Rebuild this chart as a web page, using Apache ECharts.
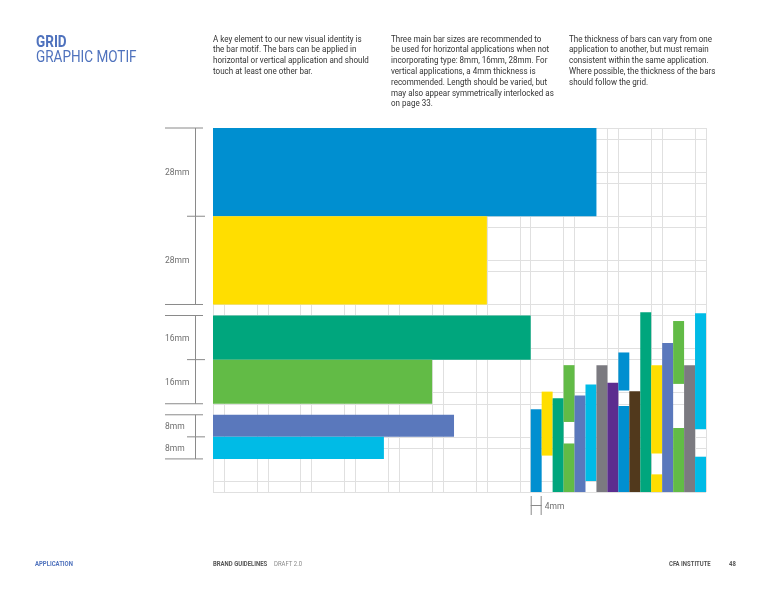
<!DOCTYPE html>
<html>
<head>
<meta charset="utf-8">
<script src="https://cdn.jsdelivr.net/npm/echarts@6/dist/echarts.min.js"></script>
<style>html,body{margin:0;padding:0;background:#fff}#c{width:768px;height:593px}</style>
</head>
<body>
<div id="c"></div>
<script>
// ---- Horizontal bars (grid units: x across, y down from top) ----
const hBarStart  = [0, 0, 0, 0, 0, 0];
const hBarEnd    = [35, 25, 29, 20, 22, 15.6];
const hBarTop    = [0, 8, 17, 21, 26, 28];
const hBarBottom = [8, 16, 21, 25, 28, 30];
const hBarColor  = ['#008fd0', '#ffde00', '#00a67d', '#62bb46', '#5a78bc', '#00bbe6'];
const hBarLabel  = ['28mm', '28mm', '16mm', '16mm', '8mm', '8mm'];

// ---- Vertical 4mm bars: one segment per entry ----
const vSegCol    = [29, 30, 31, 32, 32, 33, 34, 35, 36, 37, 37, 38, 39, 40, 40, 41, 42, 42, 43, 44, 44];
const vSegTop    = [25.5, 23.9, 24.5, 21.5, 28.6, 24.25, 23.25, 21.5, 23.1, 20.35, 25.2, 23.86, 16.7, 21.5, 31.4, 19.5, 17.5, 27.2, 21.5, 16.8, 29.8];
const vSegBottom = [33, 29.7, 33, 26.65, 33, 33, 32, 33, 33, 23.8, 33, 33, 33, 29.5, 33, 33, 23.2, 33, 33, 27.3, 33];
const vSegColor  = ['#008fd0', '#ffde00', '#00a67d', '#62bb46', '#62bb46', '#5a78bc', '#00bbe6', '#7b7a80', '#5c2d8f',
                    '#008fd0', '#008fd0', '#51391c', '#00a67d', '#ffde00', '#ffde00', '#5a78bc', '#62bb46', '#62bb46',
                    '#7b7a80', '#00bbe6', '#00bbe6'];

// ---- Axis extents (grid units) ----
const xUnits = 45;
const yUnits = 33;
const gridColors = ['#e0e0e0', '#e0e0e0', 'rgba(0,0,0,0)', 'rgba(0,0,0,0)'];

// ---- Texts ----
const titleBold = 'GRID';
const titleLight = 'GRAPHIC MOTIF';
const col1 = ['A key element to our new visual identity is', 'the bar motif. The bars can be applied in',
  'horizontal or vertical application and should', 'touch at least one other bar.'];
const col2 = ['Three main bar sizes are recommended to', 'be used for horizontal applications when not',
  'incorporating type: 8mm, 16mm, 28mm. For', 'vertical applications, a 4mm thickness is',
  'recommended. Length should be varied, but', 'may also appear symmetrically interlocked as', 'on page 33.'];
const col3 = ['The thickness of bars can vary from one', 'application to another, but must remain',
  'consistent within the same application.', 'Where possible, the thickness of the bars', 'should follow the grid.'];
const widthMarker = { from: 29, to: 30, label: '4mm' };

const chart = echarts.init(document.getElementById('c'), null, { renderer: 'canvas' });

const rectData = [];
hBarStart.forEach((s, i) => rectData.push({ value: [s, hBarEnd[i], hBarTop[i], hBarBottom[i]], c: hBarColor[i] }));
vSegCol.forEach((c, i) => rectData.push({ value: [c, c + 1, vSegTop[i], vSegBottom[i]], c: vSegColor[i] }));
const rectColors = rectData.map(d => d.c);

function rectItem(params, api) {
  const p0 = api.coord([api.value(0), api.value(2)]);
  const p1 = api.coord([api.value(1), api.value(3)]);
  return {
    type: 'rect',
    shape: { x: Math.min(p0[0], p1[0]), y: Math.min(p0[1], p1[1]), width: Math.abs(p1[0] - p0[0]), height: Math.abs(p1[1] - p0[1]) },
    style: { fill: rectColors[params.dataIndex] }
  };
}

const dimData = hBarTop.map((t, i) => [t, hBarBottom[i]]);
function dimItem(params, api) {
  const i = params.dataIndex;
  const top = api.value(0), bot = api.value(1);
  const yT = api.coord([0, top])[1], yB = api.coord([0, bot])[1];
  const isStart = i === 0 || hBarBottom[i - 1] !== top;
  const isEnd = i === hBarTop.length - 1 || hBarTop[i + 1] !== bot;
  const lx = 195.5;
  const stroke = { stroke: '#8a8a8a', lineWidth: 1 };
  const kids = [
    { type: 'line', shape: { x1: lx, y1: yT, x2: lx, y2: yB }, style: stroke },
    { type: 'line', shape: isStart ? { x1: 165, y1: yT, x2: 203, y2: yT } : { x1: 187, y1: yT, x2: 205, y2: yT }, style: stroke },
    { type: 'text', style: { text: hBarLabel[i], x: 165, y: (yT + yB) / 2 + 1, fill: '#6f6f6f', font: '8.5px Roboto', verticalAlign: 'middle', align: 'left' } }
  ];
  if (isEnd) kids.push({ type: 'line', shape: { x1: 165, y1: yB, x2: 203, y2: yB }, style: stroke });
  return { type: 'group', children: kids };
}

function markerItem(params, api) {
  const a = api.coord([api.value(0), yUnits]);
  const b = api.coord([api.value(1), yUnits]);
  const y0 = a[1] + 4, y1 = a[1] + 23, ym = (y0 + y1) / 2;
  const stroke = { stroke: '#8a8a8a', lineWidth: 1 };
  return {
    type: 'group', children: [
      { type: 'line', shape: { x1: a[0] + 0.5, y1: y0, x2: a[0] + 0.5, y2: y1 }, style: stroke },
      { type: 'line', shape: { x1: b[0] - 0.5, y1: y0, x2: b[0] - 0.5, y2: y1 }, style: stroke },
      { type: 'line', shape: { x1: a[0], y1: ym, x2: b[0], y2: ym }, style: stroke },
      { type: 'text', style: { text: widthMarker.label, x: b[0] + 3, y: ym + 1, fill: '#6f6f6f', font: '8.5px Roboto', verticalAlign: 'middle' } }
    ]
  };
}

function para(lines, x) {
  return {
    type: 'text', left: x, top: 34, scaleX: 0.935,
    style: { text: lines.join('\n'), font: '8.6px Roboto', fill: '#333', lineHeight: 10.8 }
  };
}

const fz = '7px Roboto';
chart.setOption({
  animation: false,
  grid: { left: 213, top: 128, right: 62, bottom: 101 },
  xAxis: {
    type: 'value', min: 0, max: xUnits, interval: 1,
    axisLine: { show: false }, axisTick: { show: false }, axisLabel: { show: false },
    splitLine: { show: true, lineStyle: { color: gridColors, width: 1 } }
  },
  yAxis: {
    type: 'value', min: 0, max: yUnits, interval: 1, inverse: true,
    axisLine: { show: false }, axisTick: { show: false }, axisLabel: { show: false },
    splitLine: { show: true, lineStyle: { color: gridColors, width: 1 } }
  },
  series: [
    { type: 'custom', renderItem: rectItem, data: rectData.map(d => d.value), encode: { x: [0, 1], y: [2, 3] }, clip: false, silent: true },
    { type: 'custom', renderItem: dimItem, data: dimData, encode: { y: [0, 1] }, clip: false, silent: true },
    { type: 'custom', renderItem: markerItem, data: [[widthMarker.from, widthMarker.to]], encode: { x: [0, 1] }, clip: false, silent: true }
  ],
  graphic: [
    { type: 'text', left: 36, top: 34, scaleX: 0.82, style: { text: titleBold, font: 'bold 16.5px Roboto', fill: '#4f72bd' } },
    { type: 'text', left: 36, top: 49, scaleX: 0.82, style: { text: titleLight, font: '16.5px Roboto', fill: '#4f72bd' } },
    para(col1, 213),
    para(col2, 391),
    para(col3, 569),
    { type: 'text', left: 35, top: 561, scaleX: 0.85, style: { text: 'APPLICATION', font: 'bold ' + fz, fill: '#4f72bd' } },
    { type: 'text', left: 213, top: 561, scaleX: 0.85, style: { text: 'BRAND GUIDELINES', font: 'bold ' + fz, fill: '#555' } },
    { type: 'text', left: 274, top: 561, scaleX: 0.85, style: { text: 'DRAFT 2.0', font: fz, fill: '#888' } },
    { type: 'text', left: 669, top: 561, scaleX: 0.85, style: { text: 'CFA INSTITUTE', font: 'bold ' + fz, fill: '#555' } },
    { type: 'text', left: 729, top: 561, scaleX: 0.85, style: { text: '48', font: 'bold ' + fz, fill: '#555' } }
  ]
});
</script>
</body>
</html>
